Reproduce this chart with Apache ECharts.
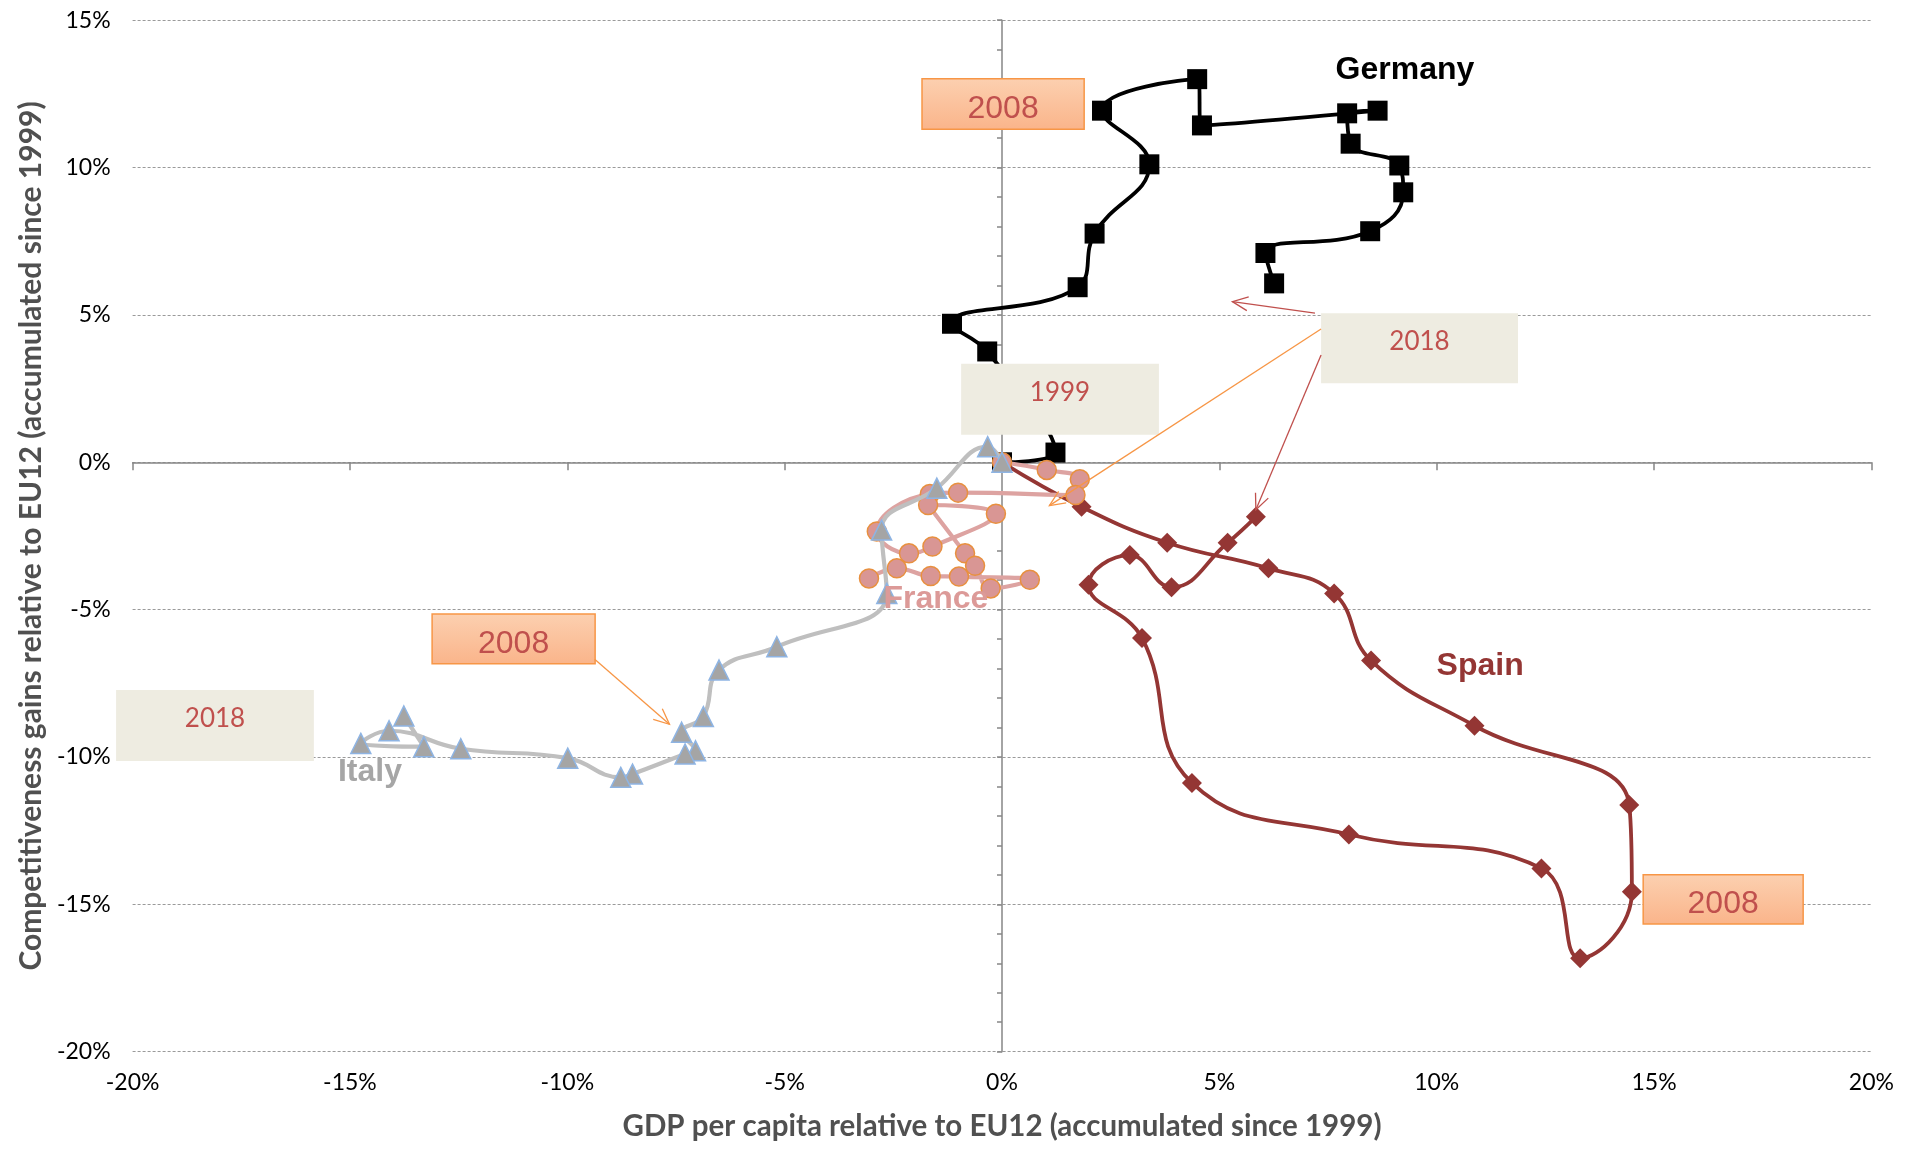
<!DOCTYPE html>
<html><head><meta charset="utf-8">
<script src="https://cdn.jsdelivr.net/npm/echarts@6/dist/echarts.min.js"></script>
<style>html,body{margin:0;padding:0;background:#fff}#c{width:1908px;height:1153px}</style>
</head><body><div id="c"></div>
<script>
// ---- data (x: GDP per capita rel. EU12 %, y: competitiveness gains %) ----
const germany = [[0,0],[1.23,0.33],[-0.34,3.76],[-1.15,4.70],[1.74,5.94],[2.13,7.76],[3.39,10.11],[2.30,11.93],[4.49,13.0],[4.60,11.43],[8.64,11.93],[7.94,11.84],[8.02,10.81],[9.14,10.07],[9.23,9.16],[8.47,7.84],[6.06,7.10],[6.26,6.07]];
const spain = [[0,0],[1.83,-1.51],[3.80,-2.73],[6.13,-3.60],[7.64,-4.45],[8.49,-6.73],[10.87,-8.94],[14.43,-11.63],[14.49,-14.57],[13.30,-16.83],[12.41,-13.78],[7.98,-12.63],[4.37,-10.88],[3.22,-5.96],[1.99,-4.16],[2.94,-3.15],[3.90,-4.24],[5.19,-2.73],[5.84,-1.85]];
const france = [[0,0],[1.03,-0.26],[1.79,-0.58],[1.69,-1.11],[-1.01,-1.03],[-1.66,-1.08],[-2.88,-2.35],[-2.14,-3.09],[-1.60,-2.86],[-0.14,-1.75],[-1.70,-1.45],[-0.85,-3.09],[-0.62,-3.51],[-0.26,-4.28],[0.64,-3.99],[-0.99,-3.88],[-1.64,-3.86],[-2.42,-3.60],[-3.06,-3.94]];
const italy = [[0,0],[-0.33,0.53],[-1.50,-0.88],[-2.77,-2.30],[-2.65,-4.45],[-5.18,-6.26],[-6.51,-7.05],[-6.87,-8.63],[-7.37,-9.16],[-7.05,-9.79],[-7.29,-9.90],[-8.50,-10.58],[-8.77,-10.69],[-9.99,-10.04],[-12.45,-9.72],[-14.10,-9.11],[-14.75,-9.54],[-13.30,-9.65],[-13.76,-8.61]];
const xTicks = [-20,-15,-10,-5,0,5,10,15,20];
const yTicks = [-20,-15,-10,-5,0,5,10,15];
const xTitle = 'GDP per capita relative to EU12 (accumulated since 1999)';
const yTitle = 'Competitiveness gains relative to EU12 (accumulated since 1999)';
// series name labels: [text, x, y, color]
const seriesLabels = [['Germany',9.27,13.31,'#000000'],['Spain',11.0,-6.91,'#943634'],['France',-1.52,-4.64,'#dc9a98'],['Italy',-14.54,-10.50,'#a6a6a6']];
// annotation boxes: [text, x1, y1, x2, y2, kind]
const boxes = [['2008',-1.84,13.01,1.89,11.30,'hl'],['1999',-0.94,3.34,3.61,0.93,'pl'],['2018',7.34,5.06,11.87,2.68,'pl'],['2018',-20.38,-7.73,-15.83,-10.14,'pl'],['2008',-13.11,-5.15,-9.36,-6.84,'hl'],['2008',14.75,-14.0,18.43,-15.67,'hl']];
// arrows: [x1,y1,x2(tip),y2(tip),color]
const arrows = [[-9.37,-6.68,-7.65,-8.89,'#f79646'],[7.20,5.06,5.30,5.45,'#c0504d'],[7.34,4.52,1.09,-1.47,'#f79646'],[7.34,3.64,5.84,-1.61,'#c0504d']];

const chart = echarts.init(document.getElementById('c'), null, {renderer:'canvas'});
const FONT = 'Lato';
const tickLbl = v => xTicks.includes(v) || yTicks.includes(v) ? v + '%' : '';
const option = {
  animation:false,
  backgroundColor:'#ffffff',
  grid:{left:132.6, right:36.6, top:20.2, bottom:101.3},
  xAxis:[
    {type:'value', min:-20, max:20, interval:5, position:'bottom',
     axisLine:{show:false, onZero:false}, axisTick:{show:false}, splitLine:{show:false},
     axisLabel:{formatter:tickLbl, fontFamily:FONT, fontSize:23, color:'#000', margin:19},
     name:xTitle, nameLocation:'middle', nameGap:60,
     nameTextStyle:{fontFamily:FONT, fontWeight:'bold', fontSize:29.5, color:'#505050'}},
    {type:'value', min:-20, max:20, interval:5, position:'bottom',
     axisLine:{show:true, onZero:true, onZeroAxisIndex:0, lineStyle:{color:'#868686', width:1.5}},
     axisTick:{show:true, length:8, lineStyle:{color:'#868686', width:1.5}},
     axisLabel:{show:false}, splitLine:{show:false}}
  ],
  yAxis:[
    {type:'value', min:-20, max:15, interval:5, position:'left',
     axisLine:{show:false, onZero:false}, axisTick:{show:false},
     splitLine:{show:true, lineStyle:{color:'#9a9a9a', type:[3,2], width:1}},
     axisLabel:{formatter:tickLbl, fontFamily:FONT, fontSize:23, color:'#000', margin:22},
     name:yTitle, nameLocation:'middle', nameGap:86,
     nameTextStyle:{fontFamily:FONT, fontWeight:'bold', fontSize:30, color:'#505050'}},
    {type:'value', min:-20, max:15, interval:1, position:'left',
     axisLine:{show:true, onZero:true, onZeroAxisIndex:0, lineStyle:{color:'#868686', width:1.5}},
     axisTick:{show:true, length:5, lineStyle:{color:'#868686', width:1.5}},
     axisLabel:{show:false}, splitLine:{show:false}}
  ],
  series:[
    {name:'Germany', type:'line', data:germany, smooth:0.45, symbol:'rect', symbolSize:20,
     lineStyle:{color:'#000', width:3.8}, itemStyle:{color:'#000'}, z:2},
    {name:'Spain', type:'line', data:spain, smooth:0.45, symbol:'diamond', symbolSize:20,
     lineStyle:{color:'#943634', width:3.8}, itemStyle:{color:'#943634'}, z:3},
    {name:'France', type:'line', data:france, smooth:0.45, symbol:'circle', symbolSize:19,
     lineStyle:{color:'#dda3a1', width:4.2}, itemStyle:{color:'#d99694', borderColor:'#e8903f', borderWidth:1.5}, z:4},
    {name:'Italy', type:'line', data:italy, smooth:0.45, symbol:'triangle', symbolSize:20,
     lineStyle:{color:'#bfbfbf', width:4.2}, itemStyle:{color:'#a5a5a5', borderColor:'#8eb4e3', borderWidth:1.5}, z:5}
  ]
};
chart.setOption(option);

const P = (x,y) => chart.convertToPixel({xAxisIndex:0, yAxisIndex:0}, [x,y]);
const g = [];
boxes.forEach(b => {
  const a = P(b[1],b[2]), c = P(b[3],b[4]);
  const hl = b[5]==='hl';
  g.push({type:'rect', z:100, shape:{x:a[0], y:a[1], width:c[0]-a[0], height:c[1]-a[1]},
    style: hl ? {fill:new echarts.graphic.LinearGradient(0,0,0,1,[{offset:0,color:'#fcd0b0'},{offset:1,color:'#fab48a'}]), stroke:'#f79646', lineWidth:1.5}
              : {fill:'#eeece1', stroke:null}});
  const cx=(a[0]+c[0])/2, cy = hl ? (a[1]+c[1])/2+5 : a[1]+(c[1]-a[1])*0.4;
  g.push({type:'text', z:101, x:cx, y:cy, style:{text:b[0], fill:'#c0504d', align:'center', verticalAlign:'middle',
    fontFamily: hl ? 'Liberation Sans' : FONT, fontSize: hl ? 32 : 26}});
});
arrows.forEach(r => {
  const a = P(r[0],r[1]), t = P(r[2],r[3]);
  g.push({type:'line', z:102, shape:{x1:a[0], y1:a[1], x2:t[0], y2:t[1]}, style:{stroke:r[4], lineWidth:1.3}});
  const ang = Math.atan2(a[1]-t[1], a[0]-t[0]), L=17, th=0.42;
  g.push({type:'polyline', z:102, shape:{points:[[t[0]+L*Math.cos(ang+th), t[1]+L*Math.sin(ang+th)],[t[0],t[1]],[t[0]+L*Math.cos(ang-th), t[1]+L*Math.sin(ang-th)]]},
    style:{stroke:r[4], lineWidth:1.3, fill:null}});
});
seriesLabels.forEach(s => {
  const p = P(s[1],s[2]);
  g.push({type:'text', z:110, x:p[0], y:p[1], style:{text:s[0], fill:s[3], align:'center', verticalAlign:'middle',
    fontFamily:'Liberation Sans', fontWeight:'bold', fontSize:32}});
});
chart.setOption({graphic:g});
</script></body></html>
